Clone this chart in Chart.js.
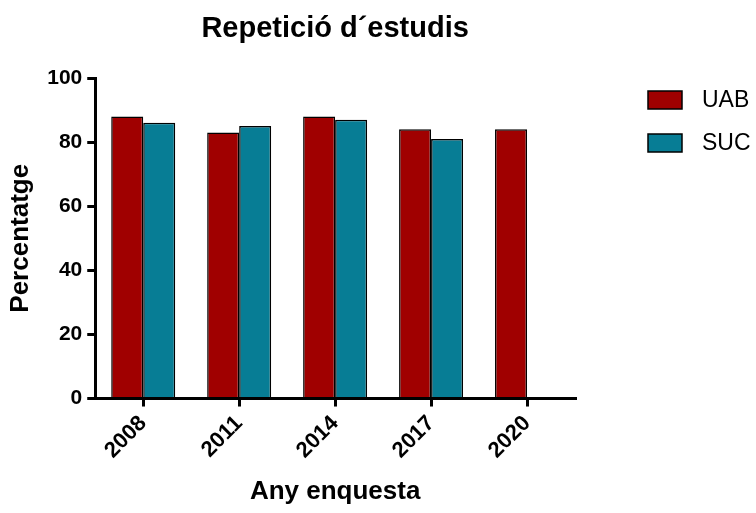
<!DOCTYPE html>
<html>
<head>
<meta charset="utf-8">
<script src="https://cdn.jsdelivr.net/npm/chart.js@4"></script>
<style>
  html, body { margin: 0; padding: 0; background: #fff; }
  #wrap { width: 756px; height: 513px; }
</style>
</head>
<body>
<div id="wrap"><canvas id="chart"></canvas></div>
<script>
// Data
const years = ['2008', '2011', '2014', '2017', '2020'];
const uab = [88, 83, 88, 84, 84];
const suc = [86, 85, 87, 81, null];
const yTicks = [0, 20, 40, 60, 80, 100];

const uabColor = '#A00000';
const sucColor = '#077D95';
const font = "'Liberation Sans', Arial, sans-serif";

// Title centred over the plot area
const plotTitle = {
    id: 'plotTitle',
    afterDraw(chart) {
        const ctx = chart.ctx;
        const area = chart.chartArea;
        ctx.save();
        ctx.fillStyle = '#000';
        ctx.font = 'bold 29px ' + font;
        ctx.textAlign = 'center';
        ctx.textBaseline = 'middle';
        ctx.fillText('Repetició d´estudis', (area.left + area.right) / 2, 29);
        ctx.restore();
    }
};

// Legend on the right, top aligned
const sideLegend = {
    id: 'sideLegend',
    afterDraw(chart) {
        const ctx = chart.ctx;
        ctx.save();
        chart.data.datasets.forEach((ds, i) => {
            const y = 91 + i * 43;
            ctx.fillStyle = ds.backgroundColor;
            ctx.fillRect(648, y, 34, 18);
            ctx.strokeStyle = '#000';
            ctx.lineWidth = 1.5;
            ctx.strokeRect(648, y, 34, 18);
            ctx.fillStyle = '#000';
            ctx.font = '23px ' + font;
            ctx.textAlign = 'left';
            ctx.textBaseline = 'middle';
            ctx.fillText(ds.label, 702, y + 10);
        });
        ctx.restore();
    }
};

new Chart(document.getElementById('chart'), {
    type: 'bar',
    data: {
        labels: years,
        datasets: [
            {
                label: 'UAB',
                data: uab,
                backgroundColor: uabColor,
                borderColor: '#000',
                borderWidth: 1.5,
                categoryPercentage: 0.667,
                barPercentage: 1
            },
            {
                label: 'SUC',
                data: suc,
                backgroundColor: sucColor,
                borderColor: '#000',
                borderWidth: 1.5,
                categoryPercentage: 0.667,
                barPercentage: 1
            }
        ]
    },
    options: {
        responsive: true,
        maintainAspectRatio: false,
        animation: false,
        layout: {
            padding: { top: 78, right: 181, bottom: 6, left: 5 }
        },
        plugins: {
            legend: { display: false },
            title: { display: false },
            tooltip: { enabled: false }
        },
        scales: {
            x: {
                grid: {
                    offset: false,
                    drawOnChartArea: false,
                    drawTicks: true,
                    tickLength: 8,
                    color: '#000',
                    lineWidth: 3
                },
                border: { color: '#000', width: 3 },
                ticks: {
                    color: '#000',
                    font: { family: font, size: 22, weight: 'bold' },
                    maxRotation: 45,
                    minRotation: 45,
                    padding: 4
                },
                title: {
                    display: true,
                    text: 'Any enquesta',
                    color: '#000',
                    font: { family: font, size: 26, weight: 'bold' },
                    padding: { top: 8, bottom: 0 }
                }
            },
            y: {
                min: 0,
                max: 100,
                afterBuildTicks(axis) {
                    axis.ticks = yTicks.map(v => ({ value: v }));
                },
                grid: {
                    drawOnChartArea: false,
                    drawTicks: true,
                    tickLength: 8,
                    color: '#000',
                    lineWidth: 3
                },
                border: { color: '#000', width: 3 },
                ticks: {
                    color: '#000',
                    font: { family: font, size: 21, weight: 'bold' },
                    padding: 5
                },
                title: {
                    display: true,
                    text: 'Percentatge',
                    color: '#000',
                    font: { family: font, size: 26, weight: 'bold' },
                    padding: { top: 0, bottom: 6 }
                }
            }
        }
    },
    plugins: [plotTitle, sideLegend]
});
</script>
</body>
</html>
